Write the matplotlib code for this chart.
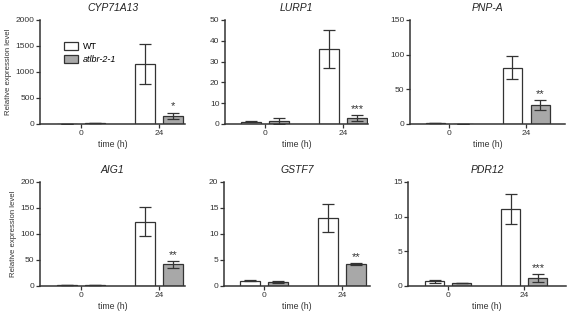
import matplotlib
matplotlib.use("Agg")
import matplotlib.pyplot as plt
from matplotlib.patches import Patch

plt.rcParams['font.family'] = ['Liberation Sans', 'DejaVu Sans']

W, H = 567, 312

genes = ['CYP71A13', 'LURP1', 'PNP-A', 'AIG1', 'GSTF7', 'PDR12']
time_labels = ['0', '24']

# values at 0 h and 24 h
wt_mean = [[0, 1154], [1.1, 35.9], [2.0, 81], [1.0, 124], [1.03, 13.1], [0.65, 11.05]]
wt_err = [[0, 390], [0.3, 9.2], [0, 16.5], [0, 28.5], [0.05, 2.7], [0.15, 2.15]]
mut_mean = [[13, 154], [1.6, 2.9], [0.5, 27.5], [1.0, 42], [0.77, 4.25], [0.45, 1.15]]
mut_err = [[0, 65], [1.4, 1.3], [0, 6.7], [0, 6.5], [0.15, 0.2], [0.05, 0.6]]
stars = ['*', '***', '**', '**', '**', '***']
ymax = [2000, 50, 150, 200, 20, 15]
ystep = [500, 10, 50, 50, 5, 5]

# axes boxes in pixels: left, right, top, bottom
boxes = [(40, 185, 20, 124), (225, 368, 20, 124), (410, 565, 20, 124),
         (40, 185, 182, 286), (224, 370, 182, 286), (408, 566, 182, 286)]
xlims = [(-0.53, 1.335), (-0.51, 1.32), (-0.506, 1.50),
         (-0.53, 1.335), (-0.51, 1.36), (-0.53, 1.55)]

wt_color = 'white'
mut_color = '#a8a8a8'
line_color = '#333333'

fig = plt.figure(figsize=(W / 100, H / 100), dpi=100)

bw = 0.25
off = 0.18
for i, gene in enumerate(genes):
    l, r, t, b = boxes[i]
    ax = fig.add_axes([l / W, 1 - b / H, (r - l) / W, (b - t) / H])
    x = [0, 1]
    ek = dict(ecolor=line_color, elinewidth=0.9, capsize=4, capthick=0.9)
    ax.bar([v - off for v in x], wt_mean[i], bw, yerr=wt_err[i], color=wt_color,
           edgecolor=line_color, linewidth=0.9, error_kw=ek, zorder=2)
    ax.bar([v + off for v in x], mut_mean[i], bw, yerr=mut_err[i], color=mut_color,
           edgecolor=line_color, linewidth=0.9, error_kw=ek, zorder=2)
    top = mut_mean[i][1] + mut_err[i][1]
    ax.text(1 + off, top + ymax[i] * 0.01, stars[i], ha='center', va='bottom',
            fontsize=8, color=line_color)
    ax.set_xlim(*xlims[i])
    ax.set_ylim(0, ymax[i])
    ax.set_yticks(range(0, ymax[i] + 1, ystep[i]))
    ax.set_xticks(x)
    ax.set_xticklabels(time_labels)
    ax.set_xlabel('time (h)', fontsize=6.3, color=line_color, labelpad=2.5)
    ax.set_title(gene, fontsize=7.5, style='italic', color='#222222', pad=6.5)
    for s in ['top', 'right']:
        ax.spines[s].set_visible(False)
    for s in ['left', 'bottom']:
        ax.spines[s].set_color(line_color)
        ax.spines[s].set_linewidth(1.1)
    ax.tick_params(axis='both', labelsize=6, colors=line_color, length=3,
                   width=0.9, pad=1)
    if i in (0, 3):
        ax.set_ylabel('Relative expression level', fontsize=5.6,
                      color=line_color, labelpad=2.5)
    if i == 0:
        handles = [Patch(facecolor=wt_color, edgecolor=line_color, linewidth=0.9),
                   Patch(facecolor=mut_color, edgecolor=line_color, linewidth=0.9)]
        leg = ax.legend(handles, ['WT', 'atlbr-2-1'], loc='upper left',
                        bbox_to_anchor=(0.14, 0.82), frameon=False, fontsize=6.5,
                        handlelength=1.6, handleheight=1.0, handletextpad=0.5,
                        labelspacing=0.35, borderaxespad=0)
        leg.get_texts()[1].set_style('italic')

fig.savefig('out.png', dpi=100)
